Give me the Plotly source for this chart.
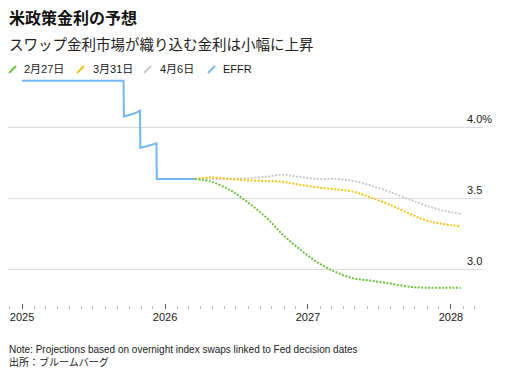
import plotly.graph_objects as go

# ---- data ----
effr_dates = ["2025-01-01", "2025-09-17", "2025-09-18", "2025-10-01", "2025-10-15",
              "2025-10-29", "2025-10-30", "2025-11-15", "2025-12-10", "2025-12-11",
              "2026-03-18"]
effr_values = [4.33, 4.33, 4.08, 4.09, 4.10, 4.12, 3.86, 3.87, 3.89, 3.64, 3.64]

proj_dates = ["2026-03-18", "2026-04-29", "2026-06-17", "2026-07-29", "2026-09-16",
              "2026-10-28", "2026-12-09", "2027-01-27", "2027-03-17", "2027-04-28",
              "2027-06-09", "2027-07-28", "2027-09-22", "2027-10-27", "2027-12-08",
              "2028-01-26"]
feb27_values = [3.64, 3.62, 3.56, 3.48, 3.37, 3.25, 3.15, 3.05, 2.98, 2.94,
                2.925, 2.905, 2.88, 2.875, 2.875, 2.875]
mar31_values = [3.64, 3.65, 3.64, 3.63, 3.625, 3.62, 3.60, 3.58, 3.565, 3.55,
                3.51, 3.46, 3.39, 3.35, 3.325, 3.305]
apr6_values = [3.64, 3.64, 3.64, 3.645, 3.655, 3.67, 3.655, 3.64, 3.64, 3.625,
               3.595, 3.55, 3.49, 3.455, 3.42, 3.395]

series_names = ["2月27日", "3月31日", "4月6日", "EFFR"]
y_ticks = [3.0, 3.5, 4.0]
y_tick_labels = ["3.0", "3.5", "4.0%"]

title = "米政策金利の予想"
subtitle = "スワップ金利市場が織り込む金利は小幅に上昇"
note = "Note: Projections based on overnight index swaps linked to Fed decision dates"
source = "出所：ブルームバーグ"

# ---- style ----
GREEN = "#6cc43f"
YELLOW = "#f5c419"
GRAY = "#cbcbcb"
BLUE = "#72b9f4"
FONT = "Liberation Sans, Noto Sans CJK JP, sans-serif"
TXT = "#1a1a1a"

OFF = 8  # page body margin
W, H = 510 - OFF, 380 - OFF
# plot area in page pixels: x 8..483, y 78..309
L, R, T, B = 8 - OFF, 510 - 483, 78 - OFF, 380 - 309
PW, PH = W - L - R, H - T - B


def px(x):
    return (x - OFF - L) / PW


def py(y):
    return (H - B - (y - OFF)) / PH


fig = go.Figure()
dot = "2px,1.5px"
fig.add_trace(go.Scatter(x=proj_dates, y=apr6_values, mode="lines", name=series_names[2],
                         line=dict(color=GRAY, width=2, dash=dot, shape="spline", smoothing=1)))
fig.add_trace(go.Scatter(x=proj_dates, y=mar31_values, mode="lines", name=series_names[1],
                         line=dict(color=YELLOW, width=2, dash=dot, shape="spline", smoothing=1)))
fig.add_trace(go.Scatter(x=proj_dates, y=feb27_values, mode="lines", name=series_names[0],
                         line=dict(color=GREEN, width=2, dash=dot, shape="spline", smoothing=1)))
fig.add_trace(go.Scatter(x=effr_dates, y=effr_values, mode="lines", name=series_names[3],
                         line=dict(color=BLUE, width=2)))

annotations = []
shapes = []

annotations.append(dict(text="<b>" + title + "</b>", x=px(7), y=py(18), xref="paper", yref="paper",
                        xanchor="left", yanchor="middle", showarrow=False,
                        font=dict(size=16, color="#111", family=FONT)))
annotations.append(dict(text=subtitle, x=px(7), y=py(45), xref="paper", yref="paper",
                        xanchor="left", yanchor="middle", showarrow=False,
                        font=dict(size=14.5, color="#222", family=FONT)))

legend_colors = [GREEN, YELLOW, GRAY, BLUE]
legend_icon_x = [9, 77, 144, 208]
legend_text_x = [22, 91, 158, 221]
for name, col, ix, tx in zip(series_names, legend_colors, legend_icon_x, legend_text_x):
    shapes.append(dict(type="line", xref="paper", yref="paper",
                       x0=px(ix), y0=py(73), x1=px(ix + 7), y1=py(66),
                       line=dict(color=col, width=2)))
    annotations.append(dict(text=name, x=px(tx), y=py(69.5), xref="paper", yref="paper",
                            xanchor="left", yanchor="middle", showarrow=False,
                            font=dict(size=11, color=TXT, family=FONT)))

for v, lab in zip(y_ticks, y_tick_labels):
    shift = 1 + (10 if lab.endswith("%") else 0)
    annotations.append(dict(text=lab, x=1, y=v, xref="paper", yref="y",
                            xanchor="right", yanchor="middle", yshift=8.5, xshift=shift,
                            showarrow=False,
                            font=dict(size=11, color=TXT, family=FONT)))

annotations.append(dict(text=note, x=px(7), y=py(349.5), xref="paper", yref="paper",
                        xanchor="left", yanchor="middle", showarrow=False,
                        font=dict(size=10, color=TXT, family=FONT)))
annotations.append(dict(text=source, x=px(7), y=py(362), xref="paper", yref="paper",
                        xanchor="left", yanchor="middle", showarrow=False,
                        font=dict(size=10, color=TXT, family=FONT)))

fig.update_layout(
    width=W, height=H,
    margin=dict(l=L, r=R, t=T, b=B, pad=0),
    paper_bgcolor="white", plot_bgcolor="white",
    showlegend=False,
    font=dict(family=FONT, size=11, color=TXT),
    annotations=annotations, shapes=shapes,
    xaxis=dict(type="date", range=["2024-11-26", "2028-03-23"],
               tick0="2025-01-01", dtick="M12", tickformat="%Y",
               ticks="inside", ticklen=5, tickwidth=1, tickcolor="#555",
               minor=dict(dtick="M1", tick0="2025-01-01", ticks="inside", ticklen=3,
                          tickwidth=1, tickcolor="#bbb", showgrid=False),
               showgrid=False, showline=False, zeroline=False,
               tickfont=dict(size=11, color=TXT, family=FONT)),
    yaxis=dict(range=[2.725, 4.35], tickvals=y_ticks, showticklabels=False,
               showgrid=True, gridcolor="#dcdcdc", gridwidth=1,
               showline=False, zeroline=False, ticks=""),
)

fig.write_html("out.html")
